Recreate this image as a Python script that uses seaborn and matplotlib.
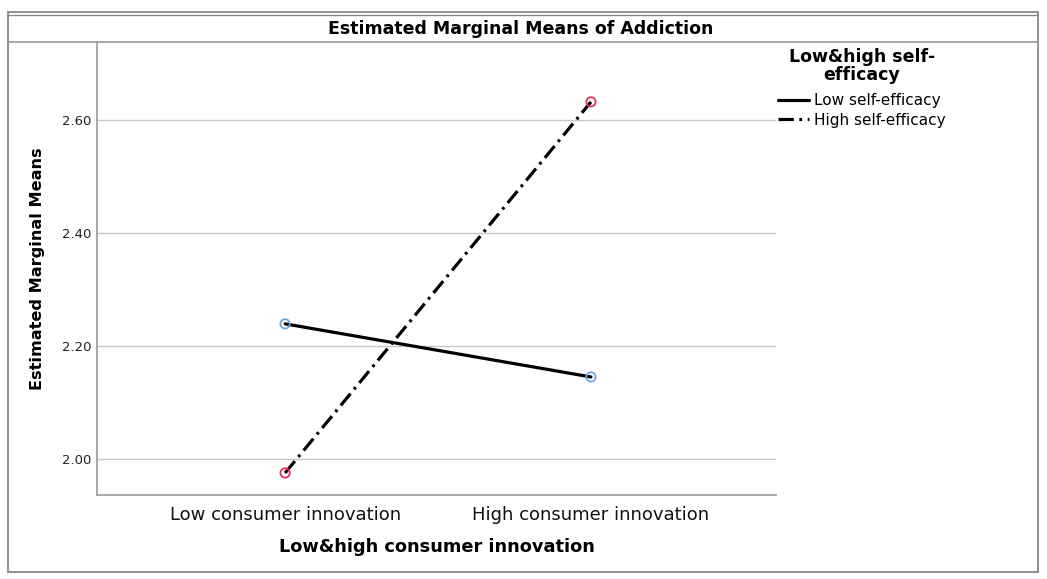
import matplotlib
matplotlib.use("Agg")
import matplotlib.pyplot as plt
import seaborn as sns
import pandas as pd
from matplotlib.lines import Line2D
from matplotlib.patches import Rectangle

# data
innovacao = ["Low consumer innovation", "High consumer innovation"]
grupos = ["Low self-efficacy", "High self-efficacy"]
medias_low = [2.239, 2.145]
medias_high = [1.975, 2.632]
yticks = [2.00, 2.20, 2.40, 2.60]

W, H = 1047, 579


def fx(px):
    return px / W


def fy(py):
    return 1 - py / H


def configurar_estilo():
    sns.set_theme(style="white")
    plt.rcParams['font.family'] = ['DejaVu Sans']
    plt.rcParams['lines.scale_dashes'] = False
    plt.rcParams['figure.facecolor'] = 'white'
    plt.rcParams['text.color'] = 'black'
    plt.rcParams['axes.labelcolor'] = 'black'


configurar_estilo()

df = pd.DataFrame({
    'innovation': innovacao * 2,
    'group': [grupos[0]] * 2 + [grupos[1]] * 2,
    'mean': medias_low + medias_high,
})

fig = plt.figure(figsize=(W / 100, H / 100), dpi=100)
ax = fig.add_axes([fx(97), fy(495), fx(776) - fx(97), fy(42) - fy(495)])

sns.lineplot(
    data=df, x='innovation', y='mean', hue='group', style='group',
    hue_order=grupos, style_order=grupos,
    palette=['black', 'black'],
    dashes={grupos[0]: '', grupos[1]: (11, 4, 2, 4)},
    linewidth=2.3, sort=False, legend=False, ax=ax,
)
n_antes = len(ax.collections)
sns.scatterplot(
    data=df, x='innovation', y='mean', hue='group', hue_order=grupos,
    palette=['#6aa6e0', '#e8305a'], s=45,
    linewidth=1.3, legend=False, zorder=5, ax=ax,
)
# hollow circles: edge takes the hue colour
for coll in ax.collections[n_antes:]:
    cores = coll.get_facecolors().copy()
    coll.set_edgecolors(cores)
    coll.set_facecolor('none')

ax.set_xlim(-0.615, 1.605)
ax.set_ylim(1.936, 2.738)
ax.set_yticks(yticks)
ax.set_yticklabels([f"{v:.2f}" for v in yticks])
ax.tick_params(axis='y', length=0, pad=4, labelsize=9.5, labelcolor='#222222')
ax.tick_params(axis='x', length=0, pad=8, labelsize=13, labelcolor='#111111')
ax.yaxis.grid(True, color='#c8c8c8', linewidth=1)
ax.xaxis.grid(False)
for s in ['top', 'right']:
    ax.spines[s].set_visible(False)
for s in ['left', 'bottom']:
    ax.spines[s].set_color('#999999')
    ax.spines[s].set_linewidth(1.2)

ax.set_xlabel('Low&high consumer innovation', fontsize=12.8, fontweight='bold', labelpad=10)
ax.set_ylabel('Estimated Marginal Means', fontsize=11.6, fontweight='bold', labelpad=12)

# legend: title as its own text, entries below
fig.text(fx(862), fy(66), 'Low&high self-\nefficacy', ha='center', va='center',
         multialignment='center', linespacing=1.0, fontsize=12.5, fontweight='bold')
handles = [Line2D([], [], color='black', linewidth=2.3),
           Line2D([], [], color='black', linewidth=2.3, dashes=(11, 4, 2, 4))]
ax.legend(handles, grupos, loc='upper left', bbox_to_anchor=(fx(775), fy(90)),
          bbox_transform=fig.transFigure, frameon=False, fontsize=11,
          handlelength=2.0, handletextpad=0.35, labelspacing=0.3,
          borderpad=0.2, borderaxespad=0)

# title band and outer frame like the SPSS output
fig.text(fx(521), fy(29), 'Estimated Marginal Means of Addiction',
         ha='center', va='center', fontsize=12.5, fontweight='bold')
fig.add_artist(Rectangle((fx(8), fy(572)), fx(1038) - fx(8), fy(12) - fy(572),
                         transform=fig.transFigure, fill=False,
                         edgecolor='#888888', linewidth=1.3))
fig.add_artist(Line2D([fx(8), fx(1038)], [fy(15), fy(15)], transform=fig.transFigure,
                      color='#888888', linewidth=1.0))
fig.add_artist(Line2D([fx(8), fx(1038)], [fy(42), fy(42)], transform=fig.transFigure,
                      color='#999999', linewidth=1.2))

fig.savefig('out.png', dpi=100)
